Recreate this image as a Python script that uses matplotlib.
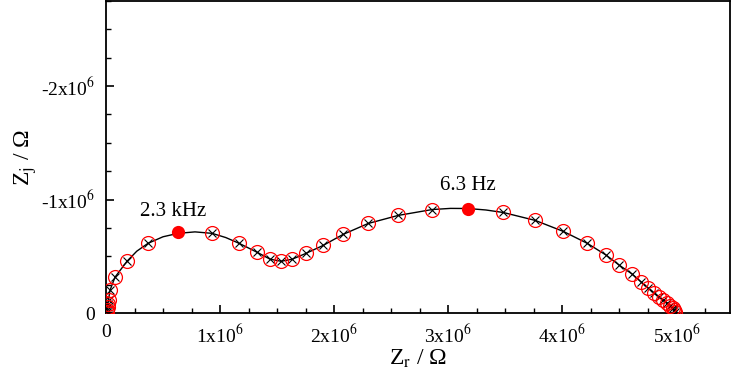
import numpy as np
import matplotlib
matplotlib.use("Agg")
import matplotlib.pyplot as plt
from matplotlib.ticker import MultipleLocator, FuncFormatter

plt.rcParams['font.family'] = ['Liberation Serif', 'DejaVu Serif']
plt.rcParams['mathtext.fontset'] = 'stix'

# 实验数据 (Zr, -Zj), 单位 Ohm
zr_data = [0.009e6, 0.009e6, 0.018e6, 0.018e6, 0.026e6, 0.035e6, 0.079e6, 0.184e6,
           0.368e6, 0.930e6, 1.167e6, 1.325e6, 1.439e6, 1.535e6, 1.632e6,
           1.754e6, 1.904e6, 2.079e6, 2.298e6, 2.561e6, 2.860e6, 3.482e6,
           3.763e6, 4.009e6, 4.219e6, 4.386e6, 4.500e6, 4.614e6, 4.693e6, 4.754e6,
           4.807e6, 4.851e6, 4.886e6, 4.921e6, 4.947e6, 4.974e6, 4.982e6, 4.991e6]
zj_data = [0.009e6, 0.026e6, 0.053e6, 0.079e6, 0.114e6, 0.200e6, 0.316e6, 0.456e6,
           0.614e6, 0.702e6, 0.614e6, 0.535e6, 0.474e6, 0.456e6, 0.474e6,
           0.526e6, 0.596e6, 0.693e6, 0.789e6, 0.860e6, 0.912e6, 0.886e6,
           0.816e6, 0.719e6, 0.614e6, 0.509e6, 0.421e6, 0.342e6, 0.272e6, 0.219e6,
           0.175e6, 0.140e6, 0.114e6, 0.088e6, 0.061e6, 0.044e6, 0.026e6, 0.009e6]

# 拟合曲线
zr_fit = [0.0, 0.009e6, 0.018e6, 0.035e6, 0.079e6, 0.184e6, 0.27e6, 0.368e6, 0.50e6,
          0.632e6, 0.78e6, 0.930e6, 1.05e6, 1.167e6, 1.325e6, 1.439e6, 1.535e6,
          1.632e6, 1.754e6, 1.904e6, 2.079e6, 2.298e6, 2.561e6, 2.860e6, 3.02e6,
          3.175e6, 3.33e6, 3.482e6, 3.763e6, 4.009e6, 4.219e6, 4.386e6, 4.500e6,
          4.614e6, 4.693e6, 4.754e6, 4.807e6, 4.851e6, 4.886e6, 4.921e6, 4.947e6,
          4.974e6, 4.991e6, 5.0e6]
zj_fit = [0.0, 0.03e6, 0.09e6, 0.200e6, 0.316e6, 0.456e6, 0.545e6, 0.614e6, 0.672e6,
          0.702e6, 0.715e6, 0.702e6, 0.665e6, 0.614e6, 0.535e6, 0.474e6, 0.456e6,
          0.474e6, 0.526e6, 0.596e6, 0.693e6, 0.789e6, 0.860e6, 0.912e6, 0.922e6,
          0.921e6, 0.908e6, 0.886e6, 0.816e6, 0.719e6, 0.614e6, 0.509e6, 0.421e6,
          0.342e6, 0.272e6, 0.219e6, 0.175e6, 0.140e6, 0.114e6, 0.088e6, 0.061e6,
          0.044e6, 0.009e6, 0.0]

# 特征频率点
zr_mark = [0.632e6, 3.175e6]
zj_mark = [0.711e6, 0.921e6]
mark_labels = ['2.3 kHz', '6.3 Hz']

fig = plt.figure(figsize=(7.33, 3.84), dpi=100)
ax = fig.add_axes([106/733, 71/384, 624/733, 312/384])

ax.plot(zr_fit, -np.array(zj_fit), color='black', lw=1.0, zorder=2)
ax.plot(zr_data, -np.array(zj_data), linestyle='none', marker='x', color='black',
        ms=6, mew=0.8, zorder=3)
ax.plot(zr_data, -np.array(zj_data), linestyle='none', marker='o', mfc='none',
        mec='red', ms=10, mew=0.9, zorder=4)
ax.plot(zr_mark, -np.array(zj_mark), linestyle='none', marker='o', color='red',
        mec='none', ms=9.5, zorder=5)

ax.text(zr_mark[0] - 0.04e6, -zj_mark[0] - 0.1e6, mark_labels[0], ha='center',
        va='bottom', fontsize=15)
ax.text(zr_mark[1], -zj_mark[1] - 0.12e6, mark_labels[1], ha='center',
        va='bottom', fontsize=15)

ax.set_xlim(0, 5.47e6)
ax.set_ylim(0, -2.75e6)

ax.xaxis.set_major_locator(MultipleLocator(1e6))
ax.xaxis.set_minor_locator(MultipleLocator(0.25e6))
ax.yaxis.set_major_locator(MultipleLocator(1e6))
ax.yaxis.set_minor_locator(MultipleLocator(0.25e6))

def fmt(v, pos):
    n = int(round(v / 1e6))
    if n == 0:
        return '0'
    return '%dx10$^{6}$' % n

ax.xaxis.set_major_formatter(FuncFormatter(fmt))
ax.yaxis.set_major_formatter(FuncFormatter(fmt))

ax.tick_params(which='both', direction='in', top=False, right=False, labelsize=14)
ax.tick_params(which='major', length=6, width=1.2, pad=8)
ax.tick_params(which='minor', length=3.5, width=1.0)
for s in ax.spines.values():
    s.set_linewidth(1.3)

ax.set_xlabel('Z$_\\mathrm{r}$ / Ω', fontsize=17, labelpad=1)
ax.set_ylabel('Z$_\\mathrm{j}$ / Ω', fontsize=17, labelpad=1)

fig.savefig('out.png', dpi=100)
